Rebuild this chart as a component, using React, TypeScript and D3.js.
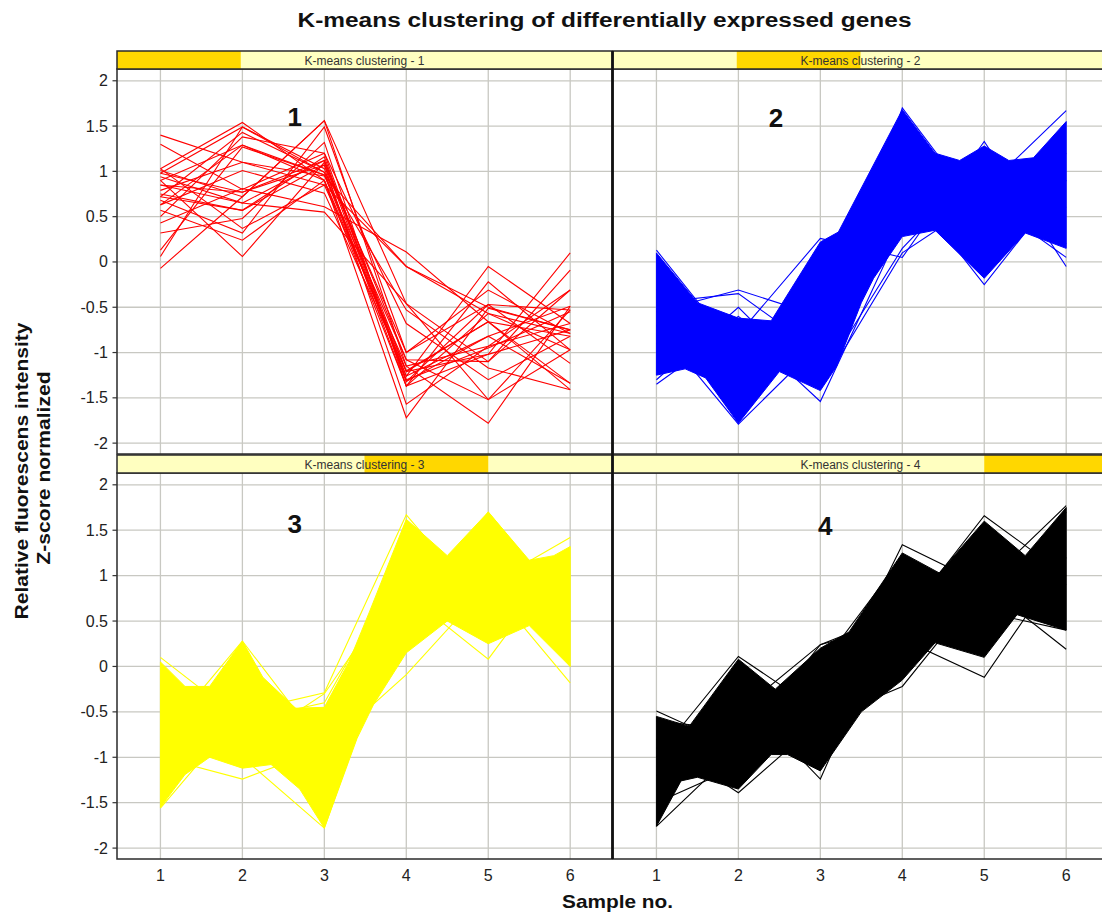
import React from 'react';
import * as d3 from 'd3';

const W = 1102;
const H = 913;

const samples = [1, 2, 3, 4, 5, 6];
const sampleLabels = ['1', '2', '3', '4', '5', '6'];
const yTicks = [-2, -1.5, -1, -0.5, 0, 0.5, 1, 1.5, 2];
const yTickLabels = ['-2', '-1.5', '-1', '-0.5', '0', '0.5', '1', '1.5', '2'];

const stripLabels = [
  'K-means clustering - 1',
  'K-means clustering - 2',
  'K-means clustering - 3',
  'K-means clustering - 4',
];
const panelNumbers = ['1', '2', '3', '4'];
const panelNumberX = [2.64, 2.46, 2.64, 3.06];
const panelNumberY = [1.6, 1.59, 1.57, 1.55];
const clusterColors = ['#ff0000', '#0000ff', '#ffff00', '#000000'];

// Cluster 1: individual profiles (values at samples 1..6)
const cluster1Lines = [
  [1.40, 1.10, 0.95, -0.05, -0.50, -0.75],
  [1.30, 0.80, 1.20, -1.30, -0.95, -0.55],
  [1.03, 1.54, 0.90, -1.20, -0.66, -0.82],
  [1.01, 0.72, 1.56, -0.46, -1.10, -0.31],
  [0.98, 1.49, 1.03, -1.37, -0.57, -0.97],
  [0.94, 0.65, 1.12, -1.08, -1.52, -0.53],
  [0.90, 1.29, 0.96, -1.26, -0.82, -1.34],
  [0.85, 0.77, 1.07, -1.57, -0.93, -0.68],
  [0.79, 1.10, 0.85, -1.15, -1.78, -0.49],
  [0.75, 0.57, 1.16, -1.32, -0.47, -1.12],
  [0.72, 1.43, 0.99, -0.53, -1.17, -1.41],
  [0.68, 0.32, 1.49, -1.00, -0.31, -0.79],
  [0.63, 1.01, 0.76, -1.21, -1.02, 0.10],
  [0.57, 0.24, 0.90, -1.72, -0.51, -0.75],
  [0.50, 1.38, 1.20, -0.68, -1.30, -0.82],
  [0.43, 0.81, 0.61, 0.11, -0.66, -1.34],
  [0.32, 0.48, 1.32, -1.37, -0.22, -0.97],
  [0.13, 1.27, 0.96, -1.08, -1.10, -0.09],
  [0.06, 1.49, 0.99, -1.26, -0.05, -0.68],
  [-0.07, 0.72, 1.56, -1.15, -0.93, -0.31],
  [1.03, 0.37, 0.85, -0.05, -0.57, -0.79],
  [0.90, 0.06, 1.10, -1.32, -0.82, -0.49],
  [0.85, 0.65, 0.55, -0.46, -1.52, -0.97],
  [0.98, 0.77, 1.12, -1.21, -0.66, -1.41],
  [0.72, 0.57, 1.07, -1.00, -0.47, -0.53],
  [0.63, 1.29, 0.90, -1.37, -1.02, -0.75],
];

// Cluster 2: dense core outline [sample position, value] and edge profiles
const cluster2Upper = [
  [1, 0.10], [1.5, -0.45], [2, -0.62], [2.4, -0.65], [3, 0.22], [3.22, 0.33],
  [4, 1.68], [4.4, 1.2], [4.7, 1.12], [5, 1.28], [5.3, 1.12], [5.6, 1.15], [6, 1.55],
];
const cluster2Lower = [
  [1, -1.25], [1.35, -1.18], [1.6, -1.28], [2, -1.78], [2.5, -1.21], [3, -1.42],
  [3.2, -1.15], [3.5, -0.45], [3.65, -0.18], [4, 0.28], [4.4, 0.35], [5, -0.18],
  [5.5, 0.32], [6, 0.15],
];
const cluster2Lines = [
  [0.13, -1.00, -0.90, 0.60, 1.00, 0.60],
  [-0.55, -0.31, -0.60, 1.00, 0.60, 0.90],
  [-0.45, -0.35, -1.00, 1.70, 0.50, 1.00],
  [-1.35, -0.70, -1.54, 0.40, 0.90, 0.50],
  [-0.70, -1.79, -0.90, 0.90, -0.25, 0.90],
  [-1.00, -0.80, 0.26, 0.05, 1.33, -0.05],
  [-0.90, -1.20, -0.20, 1.20, 0.80, 1.67],
  [-1.20, -0.60, -1.30, 0.15, 1.10, 0.20],
  [-0.30, -1.10, -0.30, 1.40, 0.40, 1.20],
  [-1.30, -0.50, -1.40, 0.10, 0.70, 0.05],
];

// Cluster 3
const cluster3Upper = [
  [1, 0.05], [1.3, -0.22], [1.6, -0.22], [2, 0.28], [2.25, -0.12], [2.65, -0.46],
  [3, -0.45], [3.3, 0.05], [3.55, 0.6], [4, 1.62], [4.5, 1.22], [5, 1.70],
  [5.5, 1.17], [5.8, 1.22], [6, 1.32],
];
const cluster3Lower = [
  [1, -1.55], [1.3, -1.19], [1.6, -1.0], [2, -1.12], [2.35, -1.08], [2.7, -1.35],
  [3, -1.78], [3.4, -0.79], [3.6, -0.42], [4, 0.15], [4.5, 0.5], [5, 0.25],
  [5.5, 0.45], [6, 0.0],
];
const cluster3Lines = [
  [0.10, -0.60, -0.40, 1.20, 0.90, 1.42],
  [-0.80, 0.28, -0.90, 0.50, 1.70, 0.60],
  [-1.56, -0.50, -0.29, 1.67, 0.60, 1.20],
  [-1.00, -1.24, -0.90, -0.09, 0.90, -0.18],
  [-0.50, -1.00, -1.78, 0.80, 0.08, 1.30],
  [-0.30, -0.90, -0.30, 1.00, 1.20, 0.00],
  [-1.30, -0.20, -0.60, 1.40, 0.50, 1.00],
  [-0.20, -1.10, -0.45, 0.30, 1.30, 0.50],
];

// Cluster 4
const cluster4Upper = [
  [1, -0.55], [1.4, -0.66], [2, 0.08], [2.45, -0.25], [3, 0.20], [3.35, 0.38],
  [4, 1.25], [4.45, 1.03], [5, 1.60], [5.5, 1.22], [6, 1.75],
];
const cluster4Lower = [
  [1, -1.76], [1.3, -1.26], [1.5, -1.22], [2, -1.35], [2.4, -0.97], [2.6, -0.97],
  [3, -1.15], [3.5, -0.50], [4, -0.15], [4.4, 0.26], [5, 0.10], [5.4, 0.57], [6, 0.40],
];
const cluster4Lines = [
  [-1.76, -0.90, -0.60, -0.22, 0.90, 0.19],
  [-0.80, -1.39, -0.60, 0.30, -0.12, 1.20],
  [-0.90, -0.30, -1.24, 0.80, 0.30, 1.00],
  [-0.49, -0.90, 0.24, 0.60, 1.10, 0.90],
  [-1.00, 0.11, -0.50, 1.34, 0.90, 1.77],
  [-1.20, -0.50, 0.24, 0.50, 1.66, 1.00],
  [-0.60, -0.70, 0.00, 1.20, 0.50, 1.70],
  [-1.50, -1.10, -0.30, 0.90, 0.60, 0.40],
];

const clusterLines = [cluster1Lines, cluster2Lines, cluster3Lines, cluster4Lines];
const clusterUpper = [[], cluster2Upper, cluster3Upper, cluster4Upper];
const clusterLower = [[], cluster2Lower, cluster3Lower, cluster4Lower];

// Layout
const panelXRange = [[117, 612], [613, 1108], [117, 612], [613, 1108]];
const stripYRange = [[51, 69], [51, 69], [455, 473], [455, 473]];
const plotYRange = [[69, 454], [69, 454], [473, 859], [473, 859]];
const xDomain = [0.47, 6.51];
const yDomain = [-2.12, 2.13];

const FONT = 'Arial, "Liberation Sans", Helvetica, sans-serif';

function Panel({ i }: { i: number }) {
  const [x0, x1] = panelXRange[i];
  const [sy0, sy1] = stripYRange[i];
  const [py0, py1] = plotYRange[i];
  const x = d3.scaleLinear().domain(xDomain).range([x0, x1]);
  const y = d3.scaleLinear().domain(yDomain).range([py1, py0]);
  const line = d3
    .line<number>()
    .x((_, k) => x(samples[k]))
    .y((d) => y(d));
  const outline = d3
    .line<number[]>()
    .x((d) => x(d[0]))
    .y((d) => y(d[1]))
    .curve(d3.curveLinearClosed);
  const upper = clusterUpper[i];
  const lower = clusterLower[i];
  const poly = upper.length ? outline([...upper, ...lower.slice().reverse()]) : null;
  const color = clusterColors[i];
  const clipId = `clip${i}`;
  const sw = x1 - x0;
  const showY = i === 0 || i === 2;
  const showX = i >= 2;
  return (
    <g>
      <defs>
        <clipPath id={clipId}>
          <rect x={x0} y={py0} width={x1 - x0} height={py1 - py0} />
        </clipPath>
      </defs>
      <rect x={x0} y={py0} width={x1 - x0} height={py1 - py0} fill="#ffffff" />
      <g clipPath={`url(#${clipId})`}>
        {samples.map((s) => (
          <line key={'vx' + s} x1={x(s)} x2={x(s)} y1={py0} y2={py1} stroke="#c8c8c2" strokeWidth={1.3} />
        ))}
        {yTicks.map((t) => (
          <line key={'hy' + t} x1={x0} x2={x1} y1={y(t)} y2={y(t)} stroke="#c8c8c2" strokeWidth={1.3} />
        ))}
        {poly && <path d={poly} fill={color} stroke={color} strokeWidth={1} strokeLinejoin="round" />}
        {clusterLines[i].map((d, k) => (
          <path key={'l' + k} d={line(d) || ''} fill="none" stroke={color} strokeWidth={1.1} />
        ))}
        <text
          x={x(panelNumberX[i])}
          y={y(panelNumberY[i])}
          textAnchor="middle"
          dominantBaseline="central"
          fontFamily={FONT}
          fontWeight="bold"
          fontSize={26}
          fill="#111"
        >
          {panelNumbers[i]}
        </text>
      </g>
      <rect x={x0} y={py0} width={x1 - x0} height={py1 - py0} fill="none" stroke="#2a2a2a" strokeWidth={1.5} />
      {/* strip */}
      <rect x={x0} y={sy0} width={sw} height={sy1 - sy0} fill="#ffffc0" />
      <rect x={x0 + sw * 0.25 * i} y={sy0} width={sw * 0.25} height={sy1 - sy0} fill="#ffd700" />
      <rect x={x0} y={sy0} width={sw} height={sy1 - sy0} fill="none" stroke="#2a2a2a" strokeWidth={1.5} />
      <text
        x={(x0 + x1) / 2}
        y={(sy0 + sy1) / 2 + 0.5}
        textAnchor="middle"
        dominantBaseline="central"
        fontFamily={FONT}
        fontSize={12}
        fill="#333"
      >
        {stripLabels[i]}
      </text>
      {showY &&
        yTicks.map((t, k) => (
          <g key={'yt' + t}>
            <line x1={x0 - 4.5} x2={x0} y1={y(t)} y2={y(t)} stroke="#333" strokeWidth={1.2} />
            <text
              x={x0 - 9}
              y={y(t)}
              textAnchor="end"
              dominantBaseline="central"
              fontFamily={FONT}
              fontSize={16}
              fill="#222"
            >
              {yTickLabels[k]}
            </text>
          </g>
        ))}
      {showX &&
        samples.map((s, k) => (
          <text
            key={'xt' + s}
            x={x(s)}
            y={py1 + 16}
            textAnchor="middle"
            dominantBaseline="central"
            fontFamily={FONT}
            fontSize={16}
            fill="#222"
          >
            {sampleLabels[k]}
          </text>
        ))}
    </g>
  );
}

export default function App() {
  return (
    <svg
      width={W}
      height={H}
      viewBox={`0 0 ${W} ${H}`}
      style={{ position: 'absolute', left: 0, top: 0, background: '#fff' }}
    >
      <rect x={0} y={0} width={W} height={H} fill="#ffffff" />
      <text
        x={604.5}
        y={20}
        textAnchor="middle"
        dominantBaseline="central"
        fontFamily={FONT}
        fontWeight="bold"
        fontSize={20}
        textLength={614}
        lengthAdjust="spacingAndGlyphs"
        fill="#111"
      >
        K-means clustering of differentially expressed genes
      </text>
      {[0, 1, 2, 3].map((i) => (
        <Panel key={i} i={i} />
      ))}
      <line x1={612.5} x2={612.5} y1={51} y2={859} stroke="#111" strokeWidth={2.5} />
      <text
        x={617.5}
        y={901}
        textAnchor="middle"
        dominantBaseline="central"
        fontFamily={FONT}
        fontWeight="bold"
        fontSize={19}
        textLength={111}
        lengthAdjust="spacingAndGlyphs"
        fill="#111"
      >
        Sample no.
      </text>
      <g transform="translate(21,471) rotate(-90)">
        <text
          x={0}
          y={0}
          textAnchor="middle"
          dominantBaseline="central"
          fontFamily={FONT}
          fontWeight="bold"
          fontSize={19}
          textLength={297}
          lengthAdjust="spacingAndGlyphs"
          fill="#111"
        >
          Relative fluorescens intensity
        </text>
      </g>
      <g transform="translate(43,468) rotate(-90)">
        <text
          x={0}
          y={0}
          textAnchor="middle"
          dominantBaseline="central"
          fontFamily={FONT}
          fontWeight="bold"
          fontSize={19}
          textLength={193}
          lengthAdjust="spacingAndGlyphs"
          fill="#111"
        >
          Z-score normalized
        </text>
      </g>
    </svg>
  );
}
